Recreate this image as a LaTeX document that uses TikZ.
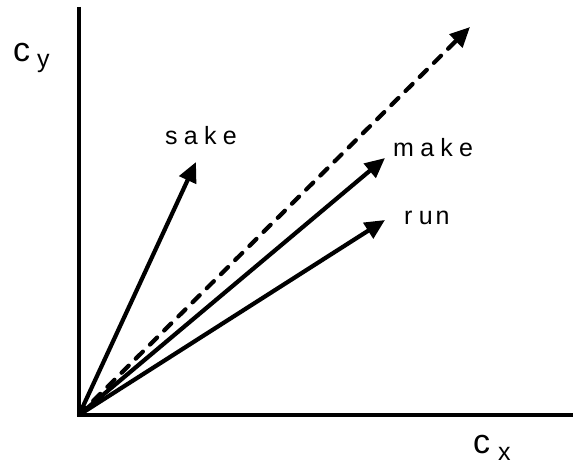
\documentclass[tikz,border=0pt]{standalone}
\usepackage{fontspec}
\setmainfont{Liberation Sans}
\newfontfamily\spacedfont[LetterSpace=25]{Liberation Sans}
\usetikzlibrary{arrows.meta,positioning}

\begin{document}
\begin{tikzpicture}[
            x=1pt, y=1pt,
            eje/.style={line width=4pt},
            vector/.style={-{Triangle[length=20pt,width=18pt]}, line width=4.2pt},
            promedio/.style={vector, dash pattern=on 10pt off 10pt, line cap=round},
            palabra/.style={font=\spacedfont\fontsize{25}{25}\selectfont, inner sep=0pt, anchor=base west},
            etiqueta/.style={font=\fontsize{34}{34}\selectfont, inner sep=0pt, anchor=base west}
        ]
\useasboundingbox (0,0) rectangle (573,464);
\coordinate (o) at (79,49);
\coordinate (ytop) at (79,457);
\coordinate (xend) at (573,49);
\coordinate (sake) at (196,302);
\coordinate (make) at (385,306);
\coordinate (run) at (385,244);
\coordinate (media) at (470,437);

\node[etiqueta] (cy) at (13,402) {c\hspace{7pt}\raisebox{-6pt}{\fontsize{25}{25}\selectfont y}};
\node[etiqueta] (cx) at (473,11) {c\hspace{8pt}\raisebox{-7pt}{\fontsize{25}{25}\selectfont x}};
\node[palabra] (lsake) at (165,319) {sake};
\node[palabra] (lmake) at (393,307) {make};
\node[palabra] (lrun) at (404,239) {ru\hspace{3pt}n};

\draw[eje] (ytop) -- (o) -- (xend);
\draw[promedio] (o) -- (media);
\draw[vector] (o) -- (sake);
\draw[vector] (o) -- (make);
\draw[vector] (o) -- (run);
        \end{tikzpicture}
\end{document}
